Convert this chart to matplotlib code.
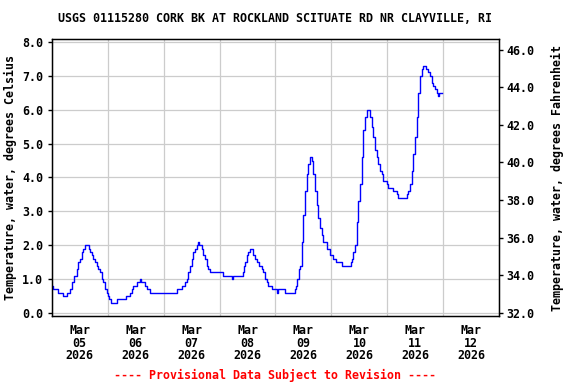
import matplotlib
matplotlib.use("Agg")
import matplotlib.pyplot as plt
import matplotlib.dates as mdates
import matplotlib.ticker as mticker
import pandas as pd

title = "USGS 01115280 CORK BK AT ROCKLAND SCITUATE RD NR CLAYVILLE, RI"
left_label = "Temperature, water, degrees Celsius"
right_label = "Temperature, water, degrees Fahrenheit"
footer = "---- Provisional Data Subject to Revision ----"
start_date = "2026-03-05"
end_date = "2026-03-13"

# hours since Mar 05 00:00 and water temperature (deg C), change points
hours = [0.0, 0.7, 2.5, 5.0, 6.5, 7.9, 8.6, 9.6, 10.7, 11.4, 12.1, 13.0, 13.6,
         14.4, 15.9, 16.4, 17.1, 17.8, 18.5, 19.3, 20.0, 20.7, 21.4, 22.1, 22.8,
         23.6, 24.2, 24.7, 25.4, 27.9, 31.9, 33.6, 34.3, 35.0, 36.5, 37.8, 38.1,
         40.0, 41.0, 42.2, 53.9, 55.8, 57.2, 57.9, 58.6, 59.3, 60.1, 60.8, 61.5,
         62.2, 62.6, 63.0, 64.3, 65.0, 65.8, 66.5, 67.2, 67.9, 73.4, 77.5, 77.8,
         81.9, 82.5, 83.1, 83.7, 84.4, 85.2, 86.4, 87.2, 88.2, 89.1, 90.2, 90.8,
         91.5, 92.2, 92.9, 94.6, 96.5, 97.0, 100.1, 104.4, 104.9, 105.4, 105.9,
         106.5, 107.3, 107.9, 108.7, 109.4, 110.1, 110.8, 111.5, 112.2, 113.0,
         113.7, 114.4, 115.1, 115.8, 116.5, 118.0, 119.4, 120.8, 122.0, 124.4,
         128.3, 128.8, 129.4, 130.1, 130.8, 131.5, 132.3, 133.0, 133.7, 134.4,
         135.1, 136.6, 137.3, 138.0, 138.7, 139.4, 140.1, 140.8, 141.5, 142.2,
         143.7, 144.4, 146.5, 148.0, 148.4, 152.3, 153.0, 153.7, 154.4, 155.1,
         155.8, 156.6, 157.3, 158.0, 158.7, 159.3, 160.5, 161.6, 162.3, 163.0,
         163.7, 164.5, 165.2, 165.7, 166.0, 167.3]
temps = [0.8, 0.7, 0.6, 0.5, 0.6, 0.7, 0.9, 1.1, 1.3, 1.5, 1.6, 1.8, 1.9,
         2.0, 1.9, 1.8, 1.7, 1.6, 1.5, 1.4, 1.3, 1.2, 1.0, 0.9, 0.7,
         0.6, 0.5, 0.4, 0.3, 0.4, 0.5, 0.6, 0.7, 0.8, 0.9, 1.0, 0.9,
         0.8, 0.7, 0.6, 0.7, 0.8, 0.9, 1.0, 1.2, 1.4, 1.6, 1.8, 1.9,
         2.0, 2.1, 2.0, 1.9, 1.7, 1.6, 1.4, 1.3, 1.2, 1.1, 1.0, 1.1,
         1.2, 1.4, 1.5, 1.7, 1.8, 1.9, 1.7, 1.6, 1.5, 1.4, 1.3, 1.2,
         1.0, 0.9, 0.8, 0.7, 0.6, 0.7, 0.6, 0.7, 0.8, 1.0, 1.3,
         1.4, 2.1, 2.9, 3.6, 4.1, 4.4, 4.6, 4.5, 4.1, 3.6,
         3.2, 2.8, 2.5, 2.3, 2.1, 1.9, 1.7, 1.6, 1.5, 1.4,
         1.5, 1.6, 1.8, 2.0, 2.7, 3.3, 3.8, 4.6, 5.4, 5.8,
         6.0, 5.8, 5.5, 5.2, 4.8, 4.6, 4.4, 4.2, 4.1, 3.9,
         3.8, 3.7, 3.6, 3.5, 3.4, 3.5, 3.6, 3.8, 4.2, 4.7,
         5.2, 5.8, 6.5, 7.0, 7.2, 7.3, 7.2, 7.1, 7.0, 6.8,
         6.7, 6.6, 6.5, 6.4, 6.5, 6.5]

left_ticks = [0, 1, 2, 3, 4, 5, 6, 7, 8]
right_ticks = [32, 34, 36, 38, 40, 42, 44, 46]

times = pd.Timestamp(start_date) + pd.to_timedelta(hours, unit="h")

FONT = "DejaVu Sans Mono"
FS = 8.4

fig = plt.figure(figsize=(5.76, 3.84), dpi=100)
ax = fig.add_axes([51.7 / 576, 1 - 316 / 384, (499.3 - 51.7) / 576, (316 - 39.3) / 384])

ax.plot(times, temps, drawstyle="steps-post", color="#0000ff", lw=1.0)

ylo, yhi = -0.09, 8.08
ax.set_ylim(ylo, yhi)
ax.set_xlim(pd.Timestamp(start_date), pd.Timestamp(end_date))
ax.set_yticks(left_ticks)
ax.yaxis.set_major_formatter(mticker.FormatStrFormatter("%.1f"))

ax.xaxis.set_major_locator(mdates.DayLocator())
ax.xaxis.set_major_formatter(mticker.NullFormatter())
ax.xaxis.set_minor_locator(mdates.HourLocator(byhour=[12]))
ax.xaxis.set_minor_formatter(mdates.DateFormatter("%b\n%d\n%Y"))
ax.tick_params(axis="x", which="both", length=0, pad=6)
ax.tick_params(axis="y", length=3, width=1, pad=3)

ax.grid(True, which="major", color="#cccccc", lw=0.9)
ax.set_axisbelow(True)
for s in ax.spines.values():
    s.set_linewidth(1.0)
    s.set_color("black")

for lab in ax.get_yticklabels():
    lab.set_fontfamily(FONT); lab.set_fontweight("bold"); lab.set_fontsize(FS)
for lab in ax.xaxis.get_minorticklabels():
    lab.set_fontfamily(FONT); lab.set_fontweight("bold"); lab.set_fontsize(FS)
    lab.set_linespacing(0.95)

ax2 = ax.twinx()
ax2.set_ylim(ylo * 1.8 + 32, yhi * 1.8 + 32)
ax2.set_yticks(right_ticks)
ax2.yaxis.set_major_formatter(mticker.FormatStrFormatter("%.1f"))
ax2.tick_params(axis="y", length=3, width=1, pad=2)
for lab in ax2.get_yticklabels():
    lab.set_fontfamily(FONT); lab.set_fontweight("bold"); lab.set_fontsize(FS)

ax.set_ylabel(left_label, fontfamily=FONT, fontweight="bold", fontsize=FS, labelpad=4)
ax2.set_ylabel(right_label, fontfamily=FONT, fontweight="bold", fontsize=FS, labelpad=12)

fig.text(275.5 / 576, 1 - 19 / 384, title, ha="center", va="center",
         fontfamily=FONT, fontweight="bold", fontsize=FS)
fig.text(275.5 / 576, 1 - 375 / 384, footer, ha="center", va="center",
         fontfamily=FONT, fontweight="bold", fontsize=FS, color="#ff0000")

fig.savefig("out.png", dpi=100)
